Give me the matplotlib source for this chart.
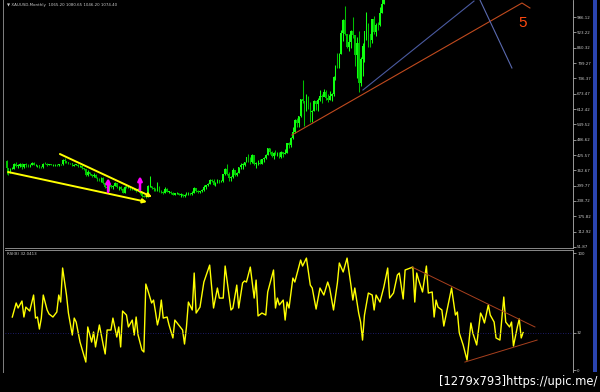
import matplotlib
matplotlib.use("Agg")
import matplotlib.pyplot as plt
from matplotlib.patches import Rectangle
from matplotlib.lines import Line2D

# monthly gold candles, first bar = Aug 1993
closes = [371, 355, 370, 370, 391,
          381, 381, 389, 376, 387, 385, 384, 385, 394, 383, 383, 383,
          376, 375, 391, 389, 385, 387, 383, 383, 384, 383, 387, 387,
          405, 400, 396, 392, 392, 382, 385, 386, 379, 379, 371, 369,
          345, 358, 348, 340, 345, 334, 326, 325, 332, 311, 296, 290,
          303, 297, 301, 310, 294, 297, 288, 273, 294, 292, 294, 288,
          287, 287, 280, 286, 272, 261, 255, 254, 299, 299, 291, 288,
          283, 293, 278, 276, 272, 288, 276, 277, 273, 264, 270, 273,
          265, 267, 258, 263, 266, 270, 266, 273, 293, 279, 275, 279,
          282, 296, 302, 309, 326, 318, 304, 312, 323, 317, 319, 347,
          367, 348, 334, 336, 364, 346, 354, 375, 385, 386, 397, 416,
          400, 396, 426, 388, 393, 395, 391, 408, 415, 426, 453, 438,
          423, 435, 428, 435, 417, 437, 429, 433, 473, 465, 495, 518,
          569, 556, 582, 654, 643, 614, 633, 624, 599, 604, 646, 632,
          650, 665, 663, 680, 657, 650, 665, 672, 743, 789, 783, 834,
          923, 972, 916, 864, 886, 928, 912, 833, 880, 718, 815, 869,
          928, 942, 916, 891, 979, 927, 955, 953, 1001, 1040, 1182, 1096]
highs = [407, 373, 373, 378, 392,
         396, 388, 392, 392, 389, 394, 389, 388, 398, 397, 391, 385,
         384, 381, 393, 397, 392, 391, 390, 391, 387, 387, 389, 390,
         409, 415, 403, 398, 395, 393, 389, 390, 387, 386, 384, 373,
         369, 365, 358, 348, 351, 347, 336, 331, 336, 335, 316, 301,
         307, 305, 303, 314, 307, 301, 300, 290, 300, 302, 300, 296,
         293, 291, 289, 291, 290, 268, 262, 259, 305, 339, 300, 295,
         292, 316, 299, 285, 279, 294, 290, 281, 279, 274, 272, 275,
         272, 270, 268, 266, 277, 275, 272, 278, 295, 292, 283, 280,
         286, 304, 304, 312, 328, 330, 330, 316, 330, 324, 322, 350,
         373, 390, 355, 340, 374, 366, 358, 376, 392, 393, 399, 418,
         428, 418, 429, 427, 396, 406, 409, 410, 416, 429, 456, 456,
         441, 438, 446, 438, 436, 441, 439, 448, 476, 478, 497, 540,
         572, 575, 584, 655, 730, 635, 672, 664, 639, 608, 650, 646,
         656, 690, 673, 695, 690, 674, 684, 679, 745, 790, 841, 838,
         933, 976, 1032, 918, 917, 934, 988, 913, 906, 930, 823, 882,
         930, 1005, 962, 917, 980, 990, 960, 966, 1025, 1070, 1195, 1227]
lows = [350, 345, 352, 367, 370,
        375, 374, 377, 368, 374, 376, 376, 375, 384, 383, 379, 375,
        372, 371, 374, 388, 382, 383, 383, 379, 381, 381, 381, 385,
        385, 393, 393, 388, 387, 380, 380, 384, 377, 377, 369, 365,
        342, 340, 346, 336, 338, 334, 320, 320, 316, 309, 292, 284,
        278, 292, 288, 300, 291, 285, 285, 271, 272, 290, 290, 285,
        284, 283, 277, 278, 268, 256, 253, 251, 254, 295, 287, 279,
        280, 281, 275, 272, 268, 272, 275, 272, 267, 263, 263, 268,
        262, 255, 256, 255, 263, 264, 264, 265, 271, 276, 272, 271,
        276, 280, 289, 299, 307, 315, 302, 300, 310, 311, 314, 317,
        344, 343, 319, 319, 334, 341, 342, 351, 370, 367, 380, 398,
        399, 389, 392, 385, 371, 384, 387, 388, 398, 411, 424, 430,
        416, 411, 424, 423, 414, 414, 418, 428, 432, 456, 458, 492,
        515, 538, 538, 580, 636, 542, 603, 612, 561, 560, 603, 609,
        603, 643, 637, 664, 651, 642, 648, 643, 667, 732, 781, 780,
        834, 890, 912, 860, 850, 860, 900, 786, 737, 681, 705, 745,
        804, 893, 865, 865, 882, 917, 908, 934, 950, 1003, 1040, 1075]
first_open = 401
opens = [first_open] + closes[:-1]

# RSI(8) (month index, value)
rsi_month = [3, 5, 6, 8, 9, 10, 12, 14, 15, 16, 17, 18, 19, 21, 22, 24, 26, 27, 28, 29,
             31, 32, 34, 35, 36, 38, 41, 42, 44, 45, 46, 48, 50, 51, 52, 54, 55, 57, 58, 59,
             60, 62, 63, 65, 66, 67, 68, 70, 71, 72, 73, 75, 76, 77, 78, 79, 80, 81, 83, 84,
             86, 87, 89, 91, 92, 93, 94, 96, 97, 98, 100,
             102, 105, 107, 109, 110, 112, 113, 116, 117, 119, 120, 122, 123, 124, 126, 128, 129, 130,
             132, 134, 135, 138, 139, 140, 141, 143, 144, 145, 146, 148, 149, 152, 153, 155, 157, 158,
             160, 162, 164, 166, 167, 169, 171, 172, 174, 176, 178, 179, 180, 182, 183, 184, 185, 187,
             189, 190, 191, 193, 195, 197, 198, 200, 202,
             203, 205, 206, 210, 211, 212, 213, 215, 217, 218, 220, 221, 222, 223, 225, 226, 228, 230,
             232, 233, 234, 236, 238, 240, 241, 243, 245, 246, 247, 249, 250, 252, 253, 255, 257, 258,
             260, 261, 262, 264, 265, 266, 267]
rsi_value = [45.3, 57.3, 53.0, 59.0, 45.3, 53.8, 50.4, 64.1, 44.4, 45.3, 35.0, 44.4, 64.1, 51.3, 47.9, 45.3, 49.6, 64.1, 58.1, 87.2,
             64.1, 48.7, 29.9, 44.4, 41.0, 23.9, 6.8, 36.8, 23.9, 32.5, 19.7, 38.5, 21.4, 13.7, 34.2, 34.2, 44.4, 28.2, 36.8, 19.7,
             50.4, 47.0, 36.8, 42.7, 29.9, 45.3, 29.9, 17.1, 15.4, 73.5, 68.4, 57.3, 59.8, 49.6, 38.5, 45.3, 59.8, 44.4, 45.3, 38.5,
             27.4, 42.7, 38.5, 34.2, 22.2, 36.8, 58.1, 51.3, 82.9, 48.7, 53.8,
             75.2, 89.7, 53.0, 70.1, 61.5, 61.5, 88.9, 51.3, 53.0, 72.6, 53.0, 74.4, 76.1, 75.2, 88.0, 61.5, 76.9, 46.2,
             48.7, 47.0, 66.7, 85.5, 53.0, 61.5, 55.6, 59.8, 42.7, 58.1, 53.0, 78.6, 75.2, 94.0, 88.9, 95.7, 72.6, 70.1,
             52.1, 70.1, 64.1, 75.2, 70.1, 51.3, 74.4, 91.5, 83.8, 95.7, 72.6, 59.8, 70.1, 48.7, 41.0, 25.6, 47.0, 65.8,
             64.1, 51.3, 64.1, 58.1, 70.9, 87.2, 61.5, 65.8, 81.2,
             82.9, 60.7, 85.5, 88.0, 58.1, 82.9, 76.9, 66.7, 88.9, 65.8, 66.7, 45.3, 59.8, 53.8, 51.3, 37.6, 53.8, 70.1,
             47.0, 49.6, 31.6, 21.4, 8.5, 40.2, 31.6, 21.4, 48.7, 45.3, 40.2, 55.6, 47.0, 41.0, 27.4, 25.6, 62.4, 41.0,
             36.8, 41.0, 20.5, 36.8, 43.6, 27.4, 32.04]

price_ticks = [986.12, 923.22, 860.32, 799.27, 736.37, 673.47, 612.42, 549.52,
               486.62, 425.57, 362.67, 299.77, 238.72, 175.82, 112.92, 51.87]
price_labels = ["986.12", "923.22", "860.32", "799.27", "736.37", "673.47", "612.42", "549.52",
                "486.62", "425.57", "362.67", "299.77", "238.72", "175.82", "112.92", "51.87"]
rsi_ticks = [100, 32, 0]
rsi_level = 32

# drawn objects (month index, price / rsi)
wedge_upper = ([27.6, 75.2], [429.6, 255.0])
wedge_lower = ([0.8, 72.6], [356.5, 234.7])
up_arrows = [(52.5, 275, 332), (69.0, 283, 340)]
red_trend = ([147.5, 266.4, 270.5], [506.8, 1043.0, 1022.7])
blue_line1 = ([184.2, 241.6], [689.6, 1051.0])
blue_line2 = ([244.7, 261.2], [1055.0, 779.0])
rsi_upper = ([209.6, 273.1], [88.0, 36.8])
rsi_lower = ([236.9, 274.2], [6.8, 25.6])

W, H = 600, 392
fig = plt.figure(figsize=(6, 3.92), dpi=100, facecolor='black')


def frac(x0, y0, x1, y1):
    return [x0 / W, 1 - y1 / H, (x1 - x0) / W, (y1 - y0) / H]


ax = fig.add_axes(frac(5, 0, 573, 248))
rx = fig.add_axes(frac(5, 250, 573, 372))
bar_px = 1.935
xlim = (-1.5 / bar_px, -1.5 / bar_px + 568 / bar_px)

for a in (ax, rx):
    a.set_facecolor('black')
    a.set_xlim(*xlim)
    a.tick_params(axis='x', bottom=False, labelbottom=False)
    a.yaxis.tick_right()
    a.tick_params(axis='y', colors='#c8c8c8', labelsize=2.9, length=2, width=0.5, pad=1)
    for s in ('left', 'top', 'bottom'):
        a.spines[s].set_visible(False)
    a.spines['right'].set_color('#b0b0b0')
    a.spines['right'].set_linewidth(0.6)
ax.spines['bottom'].set_visible(True)
ax.spines['bottom'].set_color('#a0a0a0')
ax.spines['bottom'].set_linewidth(0.6)
rx.spines['top'].set_visible(True)
rx.spines['top'].set_color('#a0a0a0')
rx.spines['top'].set_linewidth(0.6)

# candles
idx = list(range(len(closes)))
cols = ['#10ff10' if c >= o else '#00c000' for o, c in zip(opens, closes)]
ax.vlines(idx, lows, highs, colors=cols, linewidth=0.75)
ax.bar(idx, [max(abs(c - o), 2.0) for o, c in zip(opens, closes)],
       bottom=[min(o, c) for o, c in zip(opens, closes)],
       width=0.8, color=cols, linewidth=0)

for xs, ys in (wedge_upper, wedge_lower):
    ax.annotate('', xy=(xs[1], ys[1]), xytext=(xs[0], ys[0]),
                arrowprops=dict(arrowstyle='-|>', color='#ffff00', lw=1.4,
                                mutation_scale=6, shrinkA=0, shrinkB=0))
for x, y0, y1 in up_arrows:
    ax.annotate('', xy=(x, y1), xytext=(x, y0),
                arrowprops=dict(arrowstyle='-|>', color='#ff00ff', lw=1.8,
                                mutation_scale=6, shrinkA=0, shrinkB=0))
ax.plot(*red_trend, color='#c04a1e', lw=0.8)
ax.plot(*blue_line1, color='#4a5aa0', lw=0.8)
ax.plot(*blue_line2, color='#5a6ab0', lw=0.8)
ax.text((523 - 5) / 568, 1 - 23 / 248, '5', transform=ax.transAxes, color='#ff4a10',
        fontsize=11, family='Liberation Sans', ha='center', va='center')

ax.set_ylim(47.8, 1055.2)
ax.set_yticks(price_ticks)
ax.set_yticklabels(price_labels)

# RSI pane
rx.plot(rsi_month, rsi_value, color='#ffff00', lw=1.0)
rx.axhline(rsi_level, color='#26268c', lw=0.6, ls=(0, (1, 2)))
rx.plot(*rsi_upper, color='#a8401e', lw=0.7)
rx.plot(*rsi_lower, color='#a8401e', lw=0.7)
rx.set_ylim(-1.7, 102.6)
rx.set_yticks(rsi_ticks)
rx.set_yticklabels([str(t) for t in rsi_ticks])

# window chrome
fig.add_artist(Line2D([3 / W, 3 / W], [1 - 372 / H, 1], color='#808080', lw=0.7))
fig.add_artist(Rectangle((593 / W, 1 - 372 / H), 4 / W, 372 / H, color='#2a44b0',
                         transform=fig.transFigure, lw=0))
fig.text(7 / W, 1 - 5 / H, '\u25bc XAUUSD,Monthly  1065.20 1080.65 1046.20 1074.40',
         color='#c8c8c8', fontsize=2.9, va='center', ha='left')
fig.text(7 / W, 1 - 254 / H, 'RSI(8) 32.0413', color='#c8c8c8', fontsize=2.9,
         va='center', ha='left')
fig.text(597 / W, 1 - 381 / H, '[1279x793]https://upic.me/', color='white',
         fontsize=8.3, va='center', ha='right')

fig.savefig('out.png', dpi=100, facecolor='black')
